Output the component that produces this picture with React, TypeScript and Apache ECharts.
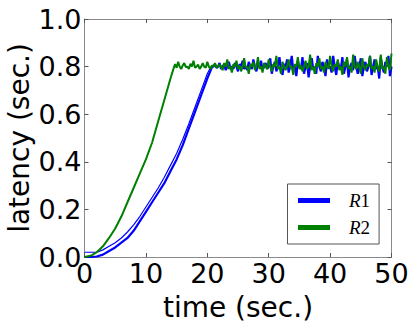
import React, { useEffect, useRef } from "react";
import * as echarts from "echarts";

// ---- data ----
const xTickLabels = ["0", "10", "20", "30", "40", "50"];
const yTickLabels = ["0.0", "0.2", "0.4", "0.6", "0.8", "1.0"];
const seriesNames = ["R1", "R2"];

// R1 (main, thick) rising part: [time, latency]
const r1Rise: number[][] = [
  [0, 0], [1, 0], [2, 0.002], [3, 0.01], [4, 0.025], [5, 0.04], [6, 0.06], [7, 0.08],
  [8, 0.11], [9, 0.15], [10, 0.19], [11, 0.23], [12, 0.27], [13, 0.31], [14, 0.36],
  [15, 0.41], [16, 0.47], [17, 0.54], [18, 0.61], [19, 0.68], [20, 0.75], [20.8, 0.8],
];
// R1 second run (thin, slightly above)
const r1bRise: number[][] = [
  [0, 0.02], [2, 0.02], [3, 0.03], [4, 0.045], [5, 0.06], [6, 0.08], [7, 0.105],
  [8, 0.135], [9, 0.17], [10, 0.21], [11, 0.25], [12, 0.29], [13, 0.335], [14, 0.385],
  [15, 0.435], [16, 0.495], [17, 0.56], [18, 0.63], [19, 0.7], [20, 0.77], [20.6, 0.8],
];
const r1PlateauStart = 21;
const plateauStep = 0.25;
const r1Plateau = [
  0.80, 0.81, 0.795, 0.80, 0.815, 0.79, 0.80, 0.81, 0.785, 0.80, 0.82, 0.795, 0.80, 0.79,
  0.815, 0.80, 0.78, 0.81, 0.80, 0.825, 0.79, 0.80, 0.785, 0.82, 0.80, 0.79, 0.83, 0.80,
  0.78, 0.81, 0.80, 0.825, 0.785, 0.80, 0.815, 0.79,
  0.80, 0.835, 0.77, 0.80, 0.82, 0.78, 0.80, 0.84, 0.79, 0.765, 0.81, 0.80, 0.83, 0.775, 0.80, 0.845, 0.785, 0.80, 0.76, 0.82,
  0.80, 0.79, 0.84, 0.77, 0.80, 0.815, 0.755, 0.80, 0.835, 0.79, 0.80, 0.77, 0.845, 0.80, 0.78, 0.82, 0.80, 0.76, 0.83, 0.795,
  0.80, 0.775, 0.845, 0.80, 0.765, 0.82, 0.80, 0.79, 0.84, 0.77, 0.80, 0.83, 0.755, 0.80, 0.815, 0.785, 0.845, 0.80, 0.77, 0.80,
  0.835, 0.76, 0.80, 0.82, 0.78, 0.80, 0.845, 0.765, 0.80, 0.83, 0.79, 0.80, 0.75, 0.84, 0.80, 0.775, 0.82, 0.80, 0.845, 0.76, 0.80,
];

// R2 rising part
const r2Rise: number[][] = [
  [0, 0], [1, 0.005], [2, 0.02], [3, 0.045], [4, 0.08], [5, 0.12], [6, 0.17], [7, 0.23],
  [8, 0.29], [9, 0.35], [10, 0.41], [11, 0.48], [12, 0.57], [13, 0.66], [14, 0.75], [14.6, 0.8],
];
const r2PlateauStart = 14.75;
const r2Plateau = [
  0.81, 0.795, 0.82, 0.80, 0.79, 0.805, 0.815, 0.798, 0.80, 0.79, 0.812, 0.80, 0.825, 0.795,
  0.80, 0.808, 0.79, 0.80, 0.815, 0.80, 0.795, 0.82, 0.80, 0.79, 0.805, 0.80, 0.815, 0.795, 0.80, 0.81,
  0.80, 0.785, 0.815, 0.80, 0.83, 0.79, 0.80, 0.775, 0.81, 0.80, 0.825, 0.79, 0.805, 0.78,
  0.80, 0.835, 0.795, 0.80, 0.77, 0.81, 0.80, 0.82, 0.785, 0.80, 0.84, 0.79, 0.80, 0.775,
  0.815, 0.80, 0.79, 0.83, 0.80, 0.78, 0.81, 0.80, 0.845, 0.79, 0.80, 0.77, 0.82, 0.80,
  0.785, 0.80, 0.83, 0.795, 0.80, 0.765, 0.81, 0.80, 0.84, 0.79, 0.805, 0.78, 0.80, 0.825,
  0.79, 0.80, 0.85, 0.785, 0.80, 0.77, 0.815, 0.80, 0.835, 0.79, 0.80, 0.775, 0.82, 0.80,
  0.79, 0.845, 0.80, 0.78, 0.81, 0.80, 0.83, 0.785, 0.80, 0.765, 0.82, 0.80, 0.84, 0.79,
  0.80, 0.775, 0.85, 0.80, 0.79, 0.82, 0.80, 0.77, 0.835, 0.80, 0.785, 0.81, 0.80, 0.845,
  0.79, 0.80, 0.775, 0.83, 0.80, 0.78, 0.85, 0.79, 0.80, 0.77, 0.84, 0.80, 0.785, 0.855,
];

const withPlateau = (rise: number[][], start: number, vals: number[]) =>
  rise.concat(vals.map((v, i) => [start + i * plateauStep, v]));

export default function App() {
  const ref = useRef<HTMLDivElement>(null);
  useEffect(() => {
    document.body.style.margin = "0";
    const chart = echarts.init(ref.current!, undefined, { renderer: "svg" });
    const frame = "#8a8a8a";
    const tickStyle = { inside: true, length: 4, lineStyle: { color: "#555", width: 1 } };
    const font = "DejaVu Sans";
    chart.setOption({
      animation: false,
      backgroundColor: "#fff",
      grid: { left: 84.5, top: 19, right: 23.5, bottom: 67, containLabel: false, outerBoundsMode: "none" },
      legend: {
        data: seriesNames,
        orient: "vertical",
        left: 287.5,
        top: 184,
        padding: [7, 9, 7, 10.5],
        itemGap: 8,
        itemWidth: 32,
        itemHeight: 5,
        icon: "rect",
        borderColor: "#555",
        borderWidth: 1,
        borderRadius: 0,
        backgroundColor: "#fff",
        formatter: (n: string) => `{s|}{i|${n.charAt(0)}}{n|${n.slice(1)}}`,
        textStyle: {
          rich: {
            s: { width: 14, lineHeight: 20 },
            i: { fontFamily: "Liberation Serif", fontStyle: "italic", fontSize: 19, color: "#000", lineHeight: 20 },
            n: { fontFamily: "Liberation Serif", fontSize: 19, color: "#000", lineHeight: 20 },
          },
        },
      },
      xAxis: [
        {
          type: "value", min: 0, max: 50, interval: 10,
          name: "time (sec.)", nameLocation: "middle", nameGap: 36,
          nameTextStyle: { fontFamily: font, fontSize: 28, color: "#000" },
          axisLine: { show: true, onZero: false, lineStyle: { color: frame, width: 1 } },
          axisTick: tickStyle,
          splitLine: { show: false },
          axisLabel: {
            fontFamily: font, fontSize: 27, color: "#000", margin: 3,
            showMinLabel: true, showMaxLabel: true, hideOverlap: false,
            formatter: (v: number) => xTickLabels[Math.round(v / 10)] ?? "",
          },
        },
        {
          type: "value", min: 0, max: 50, interval: 10, position: "top",
          axisLine: { show: true, onZero: false, lineStyle: { color: frame, width: 1 } },
          axisTick: tickStyle, axisLabel: { show: false }, splitLine: { show: false },
        },
      ],
      yAxis: [
        {
          type: "value", min: 0, max: 1, interval: 0.2,
          name: "latency (sec.)", nameLocation: "middle", nameGap: 51, nameMoveOverlap: false,
          nameTextStyle: { fontFamily: font, fontSize: 28, color: "#000" },
          axisLine: { show: true, onZero: false, lineStyle: { color: frame, width: 1 } },
          axisTick: tickStyle,
          splitLine: { show: false },
          axisLabel: {
            fontFamily: font, fontSize: 27, color: "#000", margin: 3,
            showMinLabel: true, showMaxLabel: true, hideOverlap: false,
            formatter: (v: number) => yTickLabels[Math.round(v / 0.2)] ?? "",
          },
        },
        {
          type: "value", min: 0, max: 1, interval: 0.2, position: "right",
          axisLine: { show: true, onZero: false, lineStyle: { color: frame, width: 1 } },
          axisTick: tickStyle, axisLabel: { show: false }, splitLine: { show: false },
        },
      ],
      series: [
        {
          name: "R1", type: "line", showSymbol: false, symbol: "none",
          data: r1bRise,
          lineStyle: { color: "#0000ff", width: 1.2 }, itemStyle: { color: "#0000ff" },
        },
        {
          name: "R1", type: "line", showSymbol: false, symbol: "none",
          data: withPlateau(r1Rise, r1PlateauStart, r1Plateau),
          lineStyle: { color: "#0000ff", width: 2.2 }, itemStyle: { color: "#0000ff" },
        },
        {
          name: "R2", type: "line", showSymbol: false, symbol: "none",
          data: withPlateau(r2Rise, r2PlateauStart, r2Plateau),
          lineStyle: { color: "#008000", width: 2 }, itemStyle: { color: "#008000" },
        },
      ],
    });
    return () => chart.dispose();
  }, []);
  return <div ref={ref} style={{ width: 415, height: 324 }} />;
}
